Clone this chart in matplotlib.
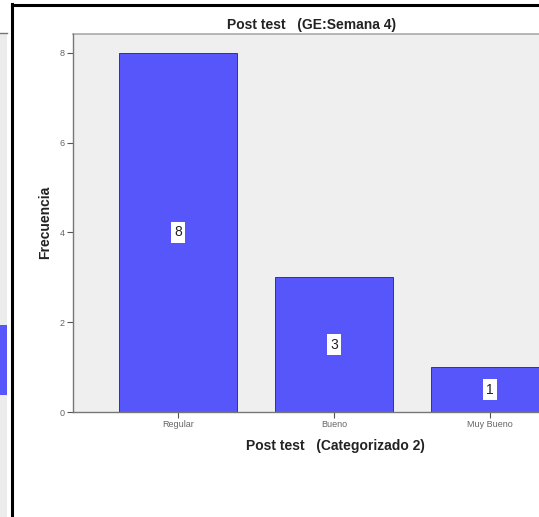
import matplotlib.pyplot as plt
from matplotlib.patches import Rectangle
from matplotlib.lines import Line2D

plt.rcParams['font.family'] = ['Liberation Sans', 'DejaVu Sans']

# Frecuencias del post test por categoría
categorias = ['Regular', 'Bueno', 'Muy Bueno']
frecuencias = [8, 3, 1]
yticks = [0, 2, 4, 6, 8]

BAR_COLOR = '#5656fa'
PANEL_COLOR = '#efefef'

W, H = 539, 517
fig = plt.figure(figsize=(W / 100, H / 100), dpi=100)
fig.patch.set_facecolor('white')

# marco de la ventana
fig.add_artist(Line2D([12 / W, 1], [1 - 5 / H, 1 - 5 / H], color='black', lw=2.2))
fig.add_artist(Line2D([12 / W, 12 / W], [0, 1 - 4 / H], color='black', lw=2.2))
fig.add_artist(Rectangle((0, 0), 7 / W, 1 - 33 / H, color='#ececec', lw=0))
fig.add_artist(Line2D([0, 7 / W], [1 - 33 / H, 1 - 33 / H], color='#777777', lw=1))
fig.add_artist(Rectangle((0, 1 - 395 / H), 7 / W, 70 / H, color=BAR_COLOR, lw=0))

ax = fig.add_axes([73 / W, 1 - 412 / H, (595 - 73) / W, (412 - 34) / H])
ax.set_facecolor(PANEL_COLOR)

x = list(range(len(categorias)))
bars = ax.bar(x, frecuencias, width=0.756, color=BAR_COLOR, edgecolor='#33338a', linewidth=0.7)

for b, v in zip(bars, frecuencias):
    ax.text(b.get_x() + b.get_width() / 2, v / 2, str(v), ha='center', va='center',
            fontsize=10, color='#222222',
            bbox=dict(boxstyle='square,pad=0.25', facecolor='white', edgecolor='none'))

ax.set_xlim(-0.673, 2.673)
ax.set_ylim(0, 8.42)
ax.set_xticks(x)
ax.set_xticklabels(categorias, fontsize=6.5, color='#666666')
ax.set_yticks(yticks)
ax.set_yticklabels([str(t) for t in yticks], fontsize=6.5, color='#666666')
ax.tick_params(axis='both', length=4, width=0.8, color='#555555', pad=2)

for s in ['top', 'right']:
    ax.spines[s].set_visible(False)
ax.spines['left'].set_color('#777777')
ax.spines['bottom'].set_color('#777777')
ax.spines['left'].set_linewidth(1)
ax.spines['bottom'].set_linewidth(1)
ax.add_artist(Line2D([0, 1], [1, 1], transform=ax.transAxes, color='#aaaaaa', lw=1.2, clip_on=False))

fig.text(312 / W, 1 - 25 / H, 'Post test   (GE:Semana 4)', ha='center', va='center',
         fontsize=10, fontweight='bold', color='#222222')
fig.text(335 / W, 1 - 446 / H, 'Post test   (Categorizado 2)', ha='center', va='center',
         fontsize=10, fontweight='bold', color='#222222')
fig.text(45 / W, 1 - 222 / H, 'Frecuencia', ha='center', va='center', rotation=90,
         fontsize=10, fontweight='bold', color='#222222')

fig.savefig('out.png', dpi=100, facecolor='white')
